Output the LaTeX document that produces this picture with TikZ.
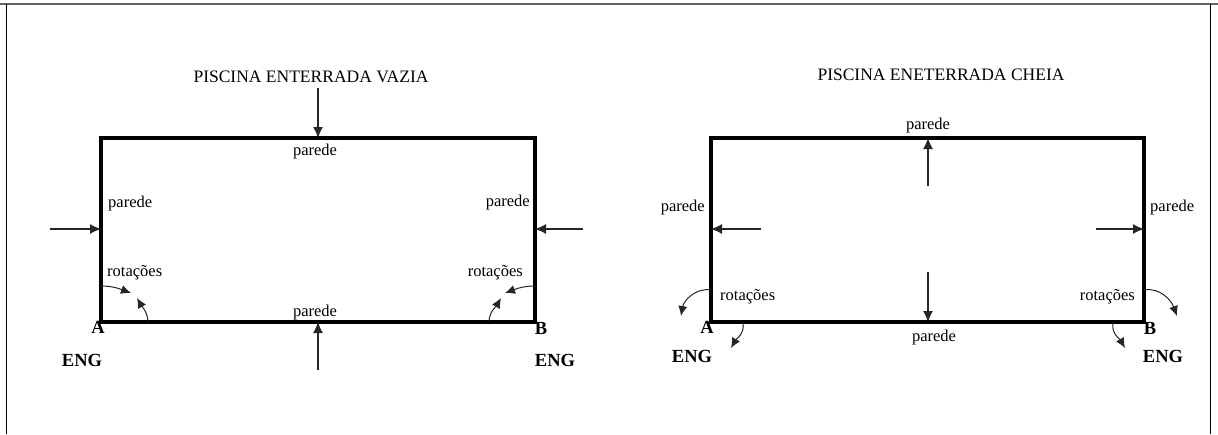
\documentclass[tikz,border=0pt]{standalone}
\usepackage{fontspec}
\setmainfont{Liberation Serif}
\usepackage{tikz}
\usetikzlibrary{arrows.meta, positioning}

\tikzset{
    wall/.style={line width=3.6pt, line join=miter},
    load/.style={line width=1.1pt, draw=black!85, -{Latex[length=11pt,width=10pt]}},
    turn/.style={line width=1pt, draw=black!85, -{Latex[length=10pt,width=9pt]}},
    lbl/.style={inner sep=0pt, anchor=base, font=\fontsize{16.5}{18}\selectfont},
    ttl/.style={inner sep=0pt, anchor=base, font=\fontsize{17.5}{20}\selectfont},
    sup/.style={inner sep=0pt, anchor=base, font=\fontsize{18.5}{20}\selectfont\bfseries},
}

\begin{document}
\begin{tikzpicture}[x=1pt, y=-1pt]
    \useasboundingbox (0,0) rectangle (1218,434);
    % frame
    \draw[black!60, line width=2pt] (0,4) -- (1218,4);
    \draw[line width=0.8pt] (6,4) -- (6,434);
    \draw[line width=0.8pt] (1210,4) -- (1210,434);

    % --- piscina vazia ---
    \coordinate (vtl) at (101,138);
    \coordinate (vbr) at (535,322);
    \draw[wall] (vtl) rectangle (vbr);
    \node (vtitle) [ttl] at (311,82) {PISCINA ENTERRADA VAZIA};
    \coordinate (vtopin) at (318,138);
    \coordinate (vtopout) at (318,88);
    \coordinate (vbotin) at (318,322);
    \coordinate (vbotout) at (318,370);
    \coordinate (vleftin) at (101,229);
    \coordinate (vleftout) at (50,229);
    \coordinate (vrightin) at (535,229);
    \coordinate (vrightout) at (583,229);
    \draw[load] (vtopout) -- (vtopin);
    \draw[load] (vbotout) -- (vbotin);
    \draw[load] (vleftout) -- (vleftin);
    \draw[load] (vrightout) -- (vrightin);
    \node (vptop) [lbl] at (315,155) {parede};
    \node (vpbot) [lbl] at (315,316) {parede};
    \node (vpleft) [lbl, anchor=base west] at (108,207) {parede};
    \node (vpright) [lbl, anchor=base east] at (530,206) {parede};
    \node (vrotA) [lbl, anchor=base west] at (107,276) {rotações};
    \node (vrotB) [lbl, anchor=base east] at (523,276) {rotações};
    % rotacoes nos cantos
    \coordinate (vAw) at (101,286);
    \coordinate (vAw2) at (131,293);
    \coordinate (vAb) at (148,321);
    \coordinate (vAb2) at (137,298);
    \coordinate (vBw) at (535,286);
    \coordinate (vBw2) at (505,293);
    \coordinate (vBb) at (489,321);
    \coordinate (vBb2) at (501,298);
    \draw[turn] (vAw) to[out=0, in=160] (vAw2);
    \draw[turn] (vAb) to[out=95, in=-60] (vAb2);
    \draw[turn] (vBw) to[out=180, in=20] (vBw2);
    \draw[turn] (vBb) to[out=85, in=-120] (vBb2);
    \node (vA) [sup] at (98,333) {A};
    \node (vB) [sup] at (541,334) {B};
    \node (vengA) [sup] at (82,366) {ENG};
    \node (vengB) [sup] at (555,366) {ENG};

    % --- piscina cheia ---
    \coordinate (ctl) at (711,138);
    \coordinate (cbr) at (1144,322);
    \draw[wall] (ctl) rectangle (cbr);
    \node (ctitle) [ttl] at (941,80) {PISCINA ENETERRADA CHEIA};
    \coordinate (ctopin) at (928,186);
    \coordinate (ctopout) at (928,138);
    \coordinate (cbotin) at (928,272);
    \coordinate (cbotout) at (928,322);
    \coordinate (cleftin) at (761,229);
    \coordinate (cleftout) at (711,229);
    \coordinate (crightin) at (1096,229);
    \coordinate (crightout) at (1144,229);
    \draw[load] (ctopin) -- (ctopout);
    \draw[load] (cbotin) -- (cbotout);
    \draw[load] (cleftin) -- (cleftout);
    \draw[load] (crightin) -- (crightout);
    \node (cptop) [lbl] at (928,129) {parede};
    \node (cpbot) [lbl] at (934,341) {parede};
    \node (cpleft) [lbl, anchor=base east] at (705,211) {parede};
    \node (cpright) [lbl, anchor=base west] at (1150,211) {parede};
    \node (crotA) [lbl, anchor=base west] at (720,300) {rotações};
    \node (crotB) [lbl, anchor=base east] at (1135,300) {rotações};
    % rotacoes nos cantos
    \coordinate (cAw) at (711,290);
    \coordinate (cAw2) at (681,316);
    \coordinate (cAb) at (743,323);
    \coordinate (cAb2) at (731,348);
    \coordinate (cBw) at (1144,290);
    \coordinate (cBw2) at (1177,316);
    \coordinate (cBb) at (1113,323);
    \coordinate (cBb2) at (1125,348);
    \draw[turn] (cAw) to[out=170, in=80] (cAw2);
    \draw[turn] (cAb) to[out=-80, in=60] (cAb2);
    \draw[turn] (cBw) to[out=10, in=110] (cBw2);
    \draw[turn] (cBb) to[out=-100, in=120] (cBb2);
    \node (cA) [sup] at (707,333) {A};
    \node (cB) [sup] at (1150,334) {B};
    \node (cengA) [sup] at (692,362) {ENG};
    \node (cengB) [sup] at (1163,362) {ENG};
\end{tikzpicture}
\end{document}
